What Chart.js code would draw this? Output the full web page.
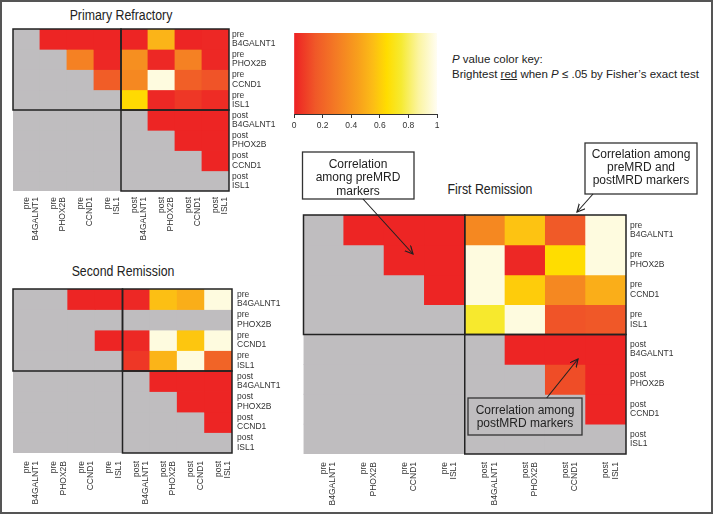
<!DOCTYPE html>
<html><head><meta charset="utf-8">
<script src="https://cdn.jsdelivr.net/npm/chart.js@4.4.1/dist/chart.umd.min.js"></script>
<style>
html,body{margin:0;padding:0;background:#fff;}
#page{position:relative;width:714px;height:515px;overflow:hidden;font-family:"Liberation Sans",Arial,sans-serif;}
#frame{position:absolute;left:0;top:0;width:713px;height:514px;box-sizing:border-box;border:2px solid #555;}
.cv{position:absolute;}
.title{position:absolute;font-family:"Liberation Sans",Arial,sans-serif;font-size:14px;color:#222;transform:translate(-50%,-50%) scaleX(0.88);white-space:nowrap;}
#caption{position:absolute;left:452px;top:52px;font-size:11.5px;line-height:15px;color:#222;white-space:nowrap;}
svg text{font-family:"Liberation Sans",Arial,sans-serif;font-size:12px;fill:#222;}
</style></head>
<body><div id="page">
<div id="frame"></div>
<div class="title" style="left:121px;top:15px">Primary Refractory</div>
<div class="title" style="left:122.5px;top:271px">Second Remission</div>
<div class="title" style="left:489.5px;top:189px">First Remission</div>
<div id="caption"><i>P</i> value color key:<br>Brightest <u>red</u> when <i>P</i> ≤ .05 by Fisher’s exact test</div>

<canvas id="cPrimary" class="cv" width="290" height="250" style="left:0;top:0;width:290px;height:250px"></canvas>
<canvas id="cSecond" class="cv" width="290" height="250" style="left:0;top:255px;width:290px;height:250px"></canvas>
<canvas id="cFirst" class="cv" width="420" height="370" style="left:290px;top:140px;width:420px;height:370px"></canvas>
<canvas id="cKey" class="cv" width="170" height="120" style="left:280px;top:20px;width:170px;height:120px"></canvas>

<svg width="714" height="515" style="position:absolute;left:0;top:0">
<defs><marker id="ah" markerWidth="10" markerHeight="10" refX="8" refY="4" orient="auto" markerUnits="userSpaceOnUse"><path d="M0,0 L8,4 L0,8" fill="none" stroke="#222" stroke-width="1.2"/></marker></defs>
<rect x="302.5" y="152" width="111.5" height="47" fill="#fff" stroke="#333" stroke-width="1.3"/>
<text x="358" y="168" text-anchor="middle">Correlation</text>
<text x="358" y="181" text-anchor="middle">among preMRD</text>
<text x="358" y="194.5" text-anchor="middle">markers</text>
<line x1="363" y1="199" x2="413" y2="254" stroke="#222" stroke-width="1.1" marker-end="url(#ah)"/>
<rect x="585" y="143" width="112" height="51" fill="#fff" stroke="#333" stroke-width="1.3"/>
<text x="641" y="158" text-anchor="middle">Correlation among</text>
<text x="641" y="171.3" text-anchor="middle">preMRD and</text>
<text x="641" y="184.3" text-anchor="middle">postMRD markers</text>
<line x1="593" y1="194" x2="577" y2="212" stroke="#222" stroke-width="1.1" marker-end="url(#ah)"/>
<rect x="468" y="398" width="114" height="37" fill="none" stroke="#333" stroke-width="1.3"/>
<text x="525" y="414" text-anchor="middle">Correlation among</text>
<text x="525" y="427.3" text-anchor="middle">postMRD markers</text>
<line x1="546.7" y1="398" x2="578" y2="359" stroke="#222" stroke-width="1.1" marker-end="url(#ah)"/>
</svg>
</div>
<script>
// ---- data ----
const markerLabels = [
  ['pre','B4GALNT1'],['pre','PHOX2B'],['pre','CCND1'],['pre','ISL1'],
  ['post','B4GALNT1'],['post','PHOX2B'],['post','CCND1'],['post','ISL1']
];
// P values (null = not tested / grey)
const primaryRefractoryP = [
  [null, 0.01, 0.01, 0.01, 0.01, 0.52, 0.01, 0.02],
  [null, null, 0.32, 0.02, 0.38, 0.02, 0.32, 0.02],
  [null, null, null, 0.17, 0.35, 0.97, 0.18, 0.14],
  [null, null, null, null, 0.64, 0.02, 0.06, 0.03],
  [null, null, null, null, null, 0.01, 0.01, 0.01],
  [null, null, null, null, null, null, 0.01, 0.01],
  [null, null, null, null, null, null, null, 0.01],
  [null, null, null, null, null, null, null, null]
];
const secondRemissionP = [
  [null, null, 0.01, 0.01, 0.02, 0.56, 0.50, 0.97],
  [null, null, null, null, null, null, null, null],
  [null, null, null, 0.01, 0.02, 0.97, 0.58, 0.97],
  [null, null, null, null, 0.06, 0.52, 0.97, 0.20],
  [null, null, null, null, null, 0.01, 0.01, 0.01],
  [null, null, null, null, null, null, 0.01, 0.01],
  [null, null, null, null, null, null, null, 0.01],
  [null, null, null, null, null, null, null, null]
];
const firstRemissionP = [
  [null, 0.01, 0.01, 0.01, 0.35, 0.57, 0.16, 0.97],
  [null, null, 0.01, 0.01, 0.97, 0.02, 0.65, 0.97],
  [null, null, null, 0.01, 0.97, 0.60, 0.35, 0.50],
  [null, null, null, null, 0.74, 0.97, 0.14, 0.15],
  [null, null, null, null, null, 0.01, 0.01, 0.01],
  [null, null, null, null, null, null, 0.12, 0.01],
  [null, null, null, null, null, null, null, 0.01],
  [null, null, null, null, null, null, null, null]
];
const keyTickValues = [0, 0.2, 0.4, 0.6, 0.8, 1];
const keyRange = [[0, 1]];

// ---- style ----
const keyStops = [
  [0.00,[237,33,36]],
  [0.15,[240,88,40]],
  [0.30,[244,124,36]],
  [0.45,[248,160,28]],
  [0.55,[252,188,22]],
  [0.65,[255,221,0]],
  [0.75,[246,234,50]],
  [0.87,[251,244,160]],
  [1.00,[255,253,242]]
];
const GRAY = '#bfbdbf';
function pColor(p){
  for(let i=1;i<keyStops.length;i++){
    const [p1,c1]=keyStops[i], [p0,c0]=keyStops[i-1];
    if(p<=p1){
      const t=(p-p0)/(p1-p0);
      return 'rgb('+c0.map((v,k)=>Math.round(v+(c1[k]-v)*t)).join(',')+')';
    }
  }
  return 'rgb('+keyStops[keyStops.length-1][1].join(',')+')';
}
const quadrants = [[0,4,0,4],[4,8,0,4],[4,8,4,8]];
const quadPlugin = {
  id:'quadBoxes',
  afterDatasetsDraw(chart){
    const {ctx, scales:{x,y}} = chart;
    ctx.save();
    ctx.strokeStyle='#222'; ctx.lineWidth=1.5;
    quadrants.forEach(([c0,c1,r0,r1])=>{
      const xa=x.getPixelForValue(c0-0.5), xb=x.getPixelForValue(c1-0.5);
      const ya=y.getPixelForValue(r0), yb=y.getPixelForValue(r1);
      ctx.strokeRect(xa,ya,xb-xa,yb-ya);
    });
    ctx.restore();
  }
};
const labelFont = {family:'"Liberation Sans", Arial, sans-serif', size:8.5, lineHeight:1.1};

function makeHeatmap(id, P, lay){
  const datasets = P.map((row,r)=>({
    label: markerLabels[r].join(' '),
    data: row.map(()=>1),
    backgroundColor: row.map(p=> p===null ? GRAY : pColor(p)),
    borderWidth:0, barPercentage:1, categoryPercentage:1, inflateAmount:0.4
  }));
  return new Chart(document.getElementById(id), {
    type:'bar',
    data:{labels: markerLabels, datasets},
    options:{
      responsive:false, animation:false,
      layout:{padding:{left:lay.l, top:lay.t, right:0, bottom:0}},
      plugins:{legend:{display:false}, tooltip:{enabled:false}},
      scales:{
        x:{stacked:true, grid:{display:false, drawTicks:false}, border:{display:false},
           ticks:{autoSkip:false, minRotation:90, maxRotation:90, padding:lay.xpad, color:'#333', font:labelFont},
           afterFit:s=>{s.height=lay.xh;}},
        y:{stacked:true, position:'right', reverse:true, min:0, max:8,
           grid:{display:false, drawTicks:false}, border:{display:false},
           afterBuildTicks:s=>{s.ticks=markerLabels.map((_,i)=>({value:i+0.5}));},
           ticks:{autoSkip:false, padding:lay.ypad, color:'#333', font:labelFont,
                  callback:v=>markerLabels[Math.floor(v)]},
           afterFit:s=>{s.width=lay.yw;}}
      }
    },
    plugins:[quadPlugin]
  });
}

makeHeatmap('cPrimary', primaryRefractoryP, {l:13, t:29, yw:61, xh:59, xpad:6, ypad:3});
makeHeatmap('cSecond', secondRemissionP, {l:13, t:34, yw:58, xh:52, xpad:8, ypad:5});
makeHeatmap('cFirst', firstRemissionP, {l:13.5, t:75, yw:84, xh:56, xpad:8, ypad:4});

new Chart(document.getElementById('cKey'), {
  type:'bar',
  data:{labels:['key'], datasets:[{
    data:keyRange, borderWidth:0, barPercentage:1, categoryPercentage:1,
    backgroundColor:c=>{
      const a=c.chart.chartArea; if(!a) return '#f00';
      const g=c.chart.ctx.createLinearGradient(a.left,0,a.right,0);
      keyStops.forEach(([p,rgb])=>g.addColorStop(p,'rgb('+rgb.join(',')+')'));
      return g;
    }
  }]},
  options:{
    indexAxis:'y', responsive:false, animation:false,
    layout:{padding:{left:14, top:13, right:13, bottom:0}},
    plugins:{legend:{display:false}, tooltip:{enabled:false}},
    scales:{
      y:{display:false},
      x:{type:'linear', min:0, max:1,
         afterBuildTicks:s=>{s.ticks=keyTickValues.map(v=>({value:v}));},
         grid:{drawOnChartArea:false, tickLength:4, color:'#333'},
         border:{display:true, color:'#333'},
         ticks:{padding:3, color:'#333', font:labelFont, callback:v=>String(v)},
         afterFit:s=>{s.height=26;}}
    }
  }
});
</script>
</body></html>
